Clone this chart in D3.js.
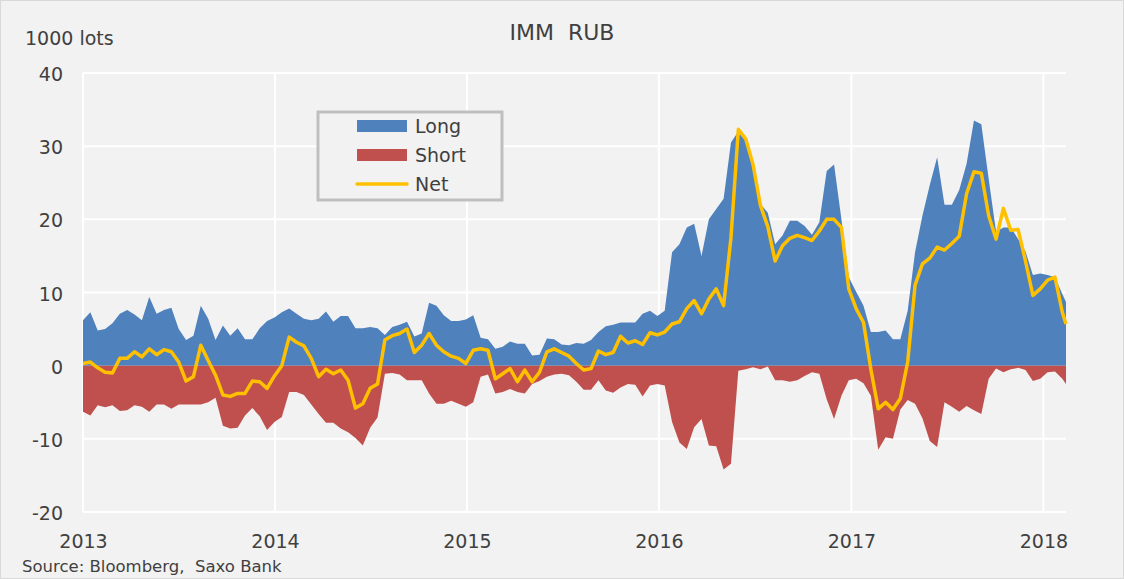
<!DOCTYPE html>
<html>
<head>
<meta charset="utf-8">
<script src="https://cdn.jsdelivr.net/npm/d3@7"></script>
<style>
  body { margin: 0; background: #f2f2f2; }
  svg { display: block; font-family: "DejaVu Sans", Verdana, sans-serif; }
  text { white-space: pre; }
</style>
</head>
<body>
<div class="chart"></div>
<script>
// data: CFTC IMM positioning in RUB futures, 1000 lots, every second week
var firstDate = new Date(2013, 0, 1);
var stepDays = 14;
var lastDate = new Date(2018, 1, 13);

var longVals = [
  6.2, 7.3, 4.8, 5.0, 5.8, 7.1, 7.6, 7.0, 6.2, 9.4, 7.1, 7.6, 7.9, 5.0, 3.5, 4.1, 8.2, 6.4, 3.5, 5.5,
  4.1, 5.1, 3.6, 3.6, 5.1, 6.1, 6.6, 7.3, 7.8, 7.1, 6.4, 6.2, 6.4, 7.4, 6.0, 6.8, 6.8, 5.1, 5.1, 5.3,
  5.1, 4.2, 5.3, 5.6, 6.0, 4.0, 4.4, 8.6, 8.2, 6.9, 6.1, 6.1, 6.3, 6.9, 3.8, 3.6, 2.3, 2.6, 3.3, 3.0,
  3.0, 1.4, 1.5, 3.7, 3.6, 2.9, 2.8, 3.1, 3.0, 3.5, 4.6, 5.4, 5.6, 5.9, 5.9, 5.9, 7.1, 7.5, 6.8, 7.5,
  15.5, 16.6, 18.9, 19.4, 15.0, 20.0, 21.4, 22.8, 30.5, 32.0, 31.0, 27.5, 22.1, 20.9, 16.6, 17.8, 19.8, 19.8, 19.1, 17.9,
  19.6, 26.6, 27.5, 20.0, 12.1, 10.1, 8.2, 4.6, 4.6, 4.8, 3.6, 3.6, 7.5, 15.5, 20.5, 24.7, 28.5, 22.0, 22.0, 24.0,
  27.6, 33.5, 33.0, 25.5, 18.3, 18.9, 18.9, 17.3, 15.6, 12.4, 12.6, 12.4, 12.1, 9.8, 8.7
];

var shortVals = [
  -6.3, -6.8, -5.4, -5.7, -5.4, -6.2, -6.1, -5.4, -5.6, -6.3, -5.3, -5.3, -5.9, -5.3, -5.3, -5.3, -5.3, -5.0, -4.4, -8.2,
  -8.6, -8.5, -6.8, -5.8, -6.9, -8.8, -7.7, -7.0, -3.6, -3.6, -4.0, -5.3, -6.6, -7.8, -7.8, -8.6, -9.1, -9.9, -10.9, -8.5,
  -7.1, -1.1, -1.0, -1.2, -2.0, -2.0, -2.0, -3.8, -5.2, -5.2, -4.8, -5.2, -5.6, -5.0, -1.5, -1.2, -3.8, -3.6, -3.2, -3.6,
  -3.8, -2.5, -2.1, -1.5, -1.2, -1.1, -1.3, -2.2, -3.3, -3.3, -2.0, -3.4, -3.7, -3.0, -2.5, -2.6, -4.2, -2.7, -2.5, -2.7,
  -7.7, -10.5, -11.4, -8.4, -7.3, -10.9, -11.0, -14.2, -13.4, -0.7, -0.5, -0.2, -0.5, -0.1, -2.0, -2.0, -2.2, -2.0, -1.4, -0.9,
  -1.1, -4.6, -7.3, -4.1, -2.0, -1.8, -2.4, -4.1, -11.5, -9.8, -10.0, -6.0, -4.7, -5.2, -7.2, -10.3, -11.1, -5.0, -5.6, -6.3,
  -5.5, -6.1, -6.6, -1.8, -0.4, -0.9, -0.5, -0.3, -0.6, -2.1, -1.8, -0.9, -0.8, -1.8, -2.5
];

var netVals = [
  0.3, 0.5, -0.3, -0.9, -1.0, 1.0, 1.0, 1.9, 1.2, 2.3, 1.5, 2.2, 1.9, 0.5, -2.1, -1.5, 2.8, 0.7, -1.3, -4.0,
  -4.2, -3.8, -3.8, -2.1, -2.2, -3.1, -1.4, 0.0, 3.9, 3.2, 2.7, 1.0, -1.5, -0.5, -1.1, -0.6, -2.0, -5.8, -5.2, -3.1,
  -2.5, 3.5, 4.1, 4.4, 5.0, 1.8, 2.8, 4.4, 2.8, 1.9, 1.3, 1.0, 0.3, 2.1, 2.3, 2.1, -1.8, -1.1, -0.4, -2.2,
  -0.6, -2.2, -0.9, 1.9, 2.3, 1.8, 1.3, 0.3, -0.6, -0.4, 2.0, 1.5, 1.8, 4.0, 3.1, 3.4, 2.9, 4.5, 4.2, 4.6,
  5.7, 6.0, 7.8, 8.9, 7.1, 9.1, 10.5, 8.2, 17.5, 32.3, 31.0, 27.5, 21.9, 19.0, 14.3, 16.4, 17.4, 17.8, 17.5, 17.1,
  18.4, 20.0, 20.0, 18.9, 10.5, 7.8, 5.9, -0.5, -5.9, -5.0, -6.0, -4.5, 0.5, 11.0, 13.9, 14.7, 16.2, 15.8, 16.7, 17.7,
  23.5, 26.5, 26.3, 20.5, 17.3, 21.5, 18.5, 18.6, 14.3, 9.6, 10.5, 11.7, 12.1, 7.3, 5.7
];

var yTicks = [-20, -10, 0, 10, 20, 30, 40];
var yearTicks = [2013, 2014, 2015, 2016, 2017, 2018];
var seriesNames = ["Long", "Short", "Net"];
var seriesColors = ["#4f81bd", "#c0504d", "#ffc000"];

// build rows: biweekly dates plus the last reported week
var rows = [];
for (var i = 0; i < longVals.length; i++) {
  var dt = i < longVals.length - 1 ? d3.timeDay.offset(firstDate, i * stepDays) : lastDate;
  rows.push({ date: dt, long: longVals[i], short: shortVals[i], net: netVals[i] });
}

var width = 1124, height = 579;
var margin = { top: 73, right: 58, bottom: 67, left: 83 };

var svg = d3.select(".chart")
  .append("svg")
  .attr("width", width)
  .attr("height", height);

svg.append("rect")
  .attr("x", 0.5).attr("y", 0.5)
  .attr("width", width - 1).attr("height", height - 1)
  .attr("fill", "#f2f2f2")
  .attr("stroke", "#d9d9d9");

var x = d3.scaleTime()
  .domain([firstDate, lastDate])
  .range([margin.left, width - margin.right]);

var y = d3.scaleLinear()
  .domain([-20, 40])
  .range([height - margin.bottom, margin.top]);

// gridlines
var grid = svg.append("g").attr("id", "grid");
grid.selectAll(".hgrid")
  .data(yTicks)
  .enter()
  .append("line")
  .attr("class", "hgrid")
  .attr("x1", x.range()[0])
  .attr("x2", x.range()[1])
  .attr("y1", function (d) { return y(d); })
  .attr("y2", function (d) { return y(d); })
  .attr("stroke", "#ffffff")
  .attr("stroke-width", 2);

grid.selectAll(".vgrid")
  .data(yearTicks)
  .enter()
  .append("line")
  .attr("class", "vgrid")
  .attr("x1", function (d) { return x(new Date(d, 0, 1)); })
  .attr("x2", function (d) { return x(new Date(d, 0, 1)); })
  .attr("y1", y(40))
  .attr("y2", y(-20))
  .attr("stroke", "#ffffff")
  .attr("stroke-width", 2);

// areas
var longArea = d3.area()
  .x(function (d) { return x(d.date); })
  .y0(y(0))
  .y1(function (d) { return y(d.long); });

var shortArea = d3.area()
  .x(function (d) { return x(d.date); })
  .y0(y(0))
  .y1(function (d) { return y(d.short); });

var netLine = d3.line()
  .x(function (d) { return x(d.date); })
  .y(function (d) { return y(d.net); });

svg.append("path")
  .datum(rows)
  .attr("d", longArea)
  .attr("fill", seriesColors[0]);

svg.append("path")
  .datum(rows)
  .attr("d", shortArea)
  .attr("fill", seriesColors[1]);

svg.append("path")
  .datum(rows)
  .attr("d", netLine)
  .attr("fill", "none")
  .attr("stroke", seriesColors[2])
  .attr("stroke-width", 3.5)
  .attr("stroke-linejoin", "round");

// axes (labels only, no axis lines)
var yAxis = svg.append("g")
  .attr("transform", "translate(" + (margin.left - 20) + ",0)")
  .call(d3.axisLeft(y)
    .tickValues(yTicks)
    .tickFormat(function (d) { return String(d); })
    .tickSize(0)
    .tickPadding(0));
yAxis.select(".domain").remove();
yAxis.selectAll("text")
  .attr("font-family", "DejaVu Sans, sans-serif")
  .attr("font-size", "19px")
  .attr("fill", "#404040")
  .attr("dy", "0.4em");

var xAxis = svg.append("g")
  .attr("transform", "translate(0," + (height - margin.bottom + 22) + ")")
  .call(d3.axisBottom(x)
    .tickValues(yearTicks.map(function (d) { return new Date(d, 0, 1); }))
    .tickFormat(d3.timeFormat("%Y"))
    .tickSize(0)
    .tickPadding(0));
xAxis.select(".domain").remove();
xAxis.selectAll("text")
  .attr("font-family", "DejaVu Sans, sans-serif")
  .attr("font-size", "19px")
  .attr("fill", "#404040")
  .attr("dy", "0.75em");

// titles
svg.append("text")
  .attr("x", 562)
  .attr("y", 40)
  .attr("text-anchor", "middle")
  .attr("font-size", "22px")
  .attr("fill", "#404040")
  .text("IMM  RUB");

svg.append("text")
  .attr("x", 25)
  .attr("y", 45)
  .attr("font-size", "19px")
  .attr("fill", "#404040")
  .text("1000 lots");

svg.append("text")
  .attr("x", 22)
  .attr("y", 572)
  .attr("font-size", "16.5px")
  .attr("fill", "#404040")
  .text("Source: Bloomberg,  Saxo Bank");

// legend
var legend = svg.append("g").attr("transform", "translate(318,112)");
legend.append("rect")
  .attr("width", 184)
  .attr("height", 88)
  .attr("fill", "#f2f2f2")
  .attr("stroke", "#bfbfbf")
  .attr("stroke-width", 3);

var items = legend.selectAll(".item")
  .data(seriesNames)
  .enter()
  .append("g")
  .attr("class", "item")
  .attr("transform", function (d, i) { return "translate(0," + (14 + i * 29) + ")"; });

items.each(function (d, i) {
  var g = d3.select(this);
  if (i < 2) {
    g.append("rect")
      .attr("x", 39).attr("y", -6)
      .attr("width", 50).attr("height", 12)
      .attr("fill", seriesColors[i]);
  } else {
    g.append("line")
      .attr("x1", 39).attr("x2", 89)
      .attr("y1", 0).attr("y2", 0)
      .attr("stroke", seriesColors[i])
      .attr("stroke-width", 3.5)
      .attr("stroke-linecap", "round");
  }
  g.append("text")
    .attr("x", 97)
    .attr("y", 0)
    .attr("dy", "0.36em")
    .attr("font-size", "19px")
    .attr("fill", "#404040")
    .text(d);
});
</script>
</body>
</html>
